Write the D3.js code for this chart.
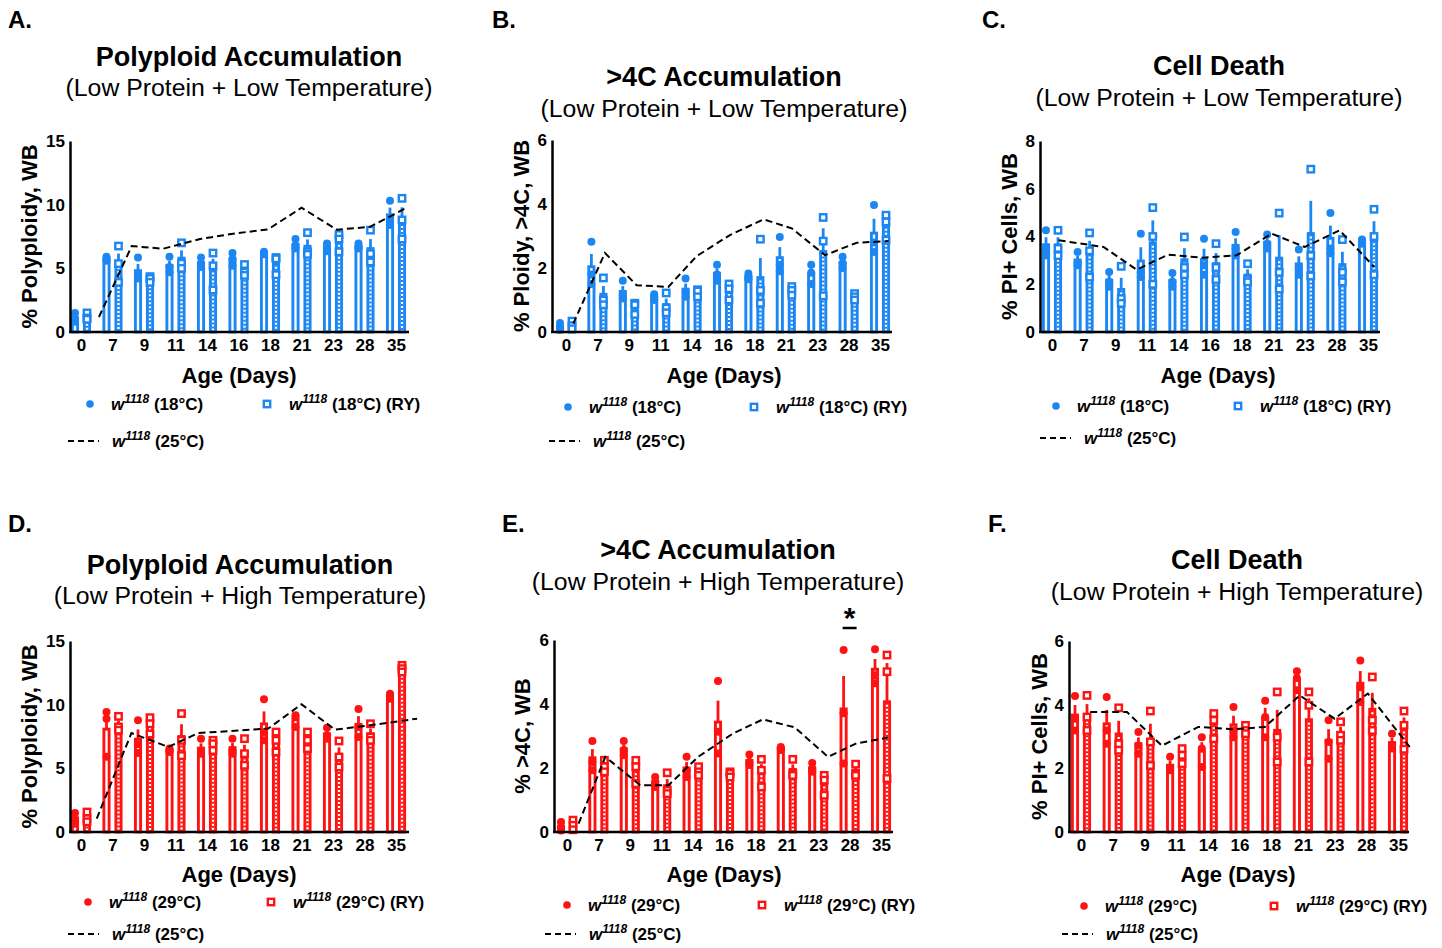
<!DOCTYPE html>
<html>
<head>
<meta charset="utf-8">
<title>Polyploidy, >4C and cell death by age</title>
<script src="https://d3js.org/d3.v7.min.js"></script>
<style>
  body { margin: 0; background: #fff; }
  svg { display: block; font-family: "Liberation Sans", Arial, sans-serif; }
</style>
</head>
<body>
<svg id="fig" width="1442" height="948"></svg>
<script>
// categories (age in days)
const days = ["0", "7", "9", "11", "14", "16", "18", "21", "23", "28", "35"];

// --- A: polyploidy, 18C ---
const aCircle = [[1.5,1.05,0.8],[5.9,5.75,5.6],[5.85,4.4,4.2],[5.9,5.1,4.7],[5.85,5.37,5.1],[6.2,5.75,5.2],
                 [6.3,6.15,6.1],[7.3,6.8,6.55],[6.95,6.7,6.35],[6.95,6.7,6.55],[10.3,8.9,8.4]];
const aSquare = [[1.5,1.1,1.0],[6.75,5.37,3.9],[4.35,4.2,3.9],[7.0,5.4,5.0],[6.2,5.2,3.3],[5.3,4.7,4.45],
                 [5.85,5.75,4.5],[7.8,6.3,6.1],[7.65,7.3,6.3],[8.0,6.15,5.5],[10.5,8.8,7.3]];
const aLineX = [0.57, 1.61, 2.61, 3.78, 4.92, 5.94, 7.0, 8.12, 9.17, 10.34];
const aLineY = [1.18, 6.75, 6.54, 7.3, 7.75, 8.06, 9.76, 8.04, 8.25, 9.76];

// --- B: >4C, 18C ---
const bCircle = [[0.28,0.16,0.07],[2.82,1.8,1.5],[1.6,1.15,1.05],[1.18,1.1,1.0],[1.67,1.25,1.1],[2.1,1.8,1.6],
                 [1.83,1.72,1.65],[2.97,2.1,1.9],[2.1,1.85,1.5],[2.35,2.15,2.0],[3.97,2.8,2.5]];
const bSquare = [[0.34,0.2,0.1],[1.69,1.0,0.85],[0.9,0.85,0.55],[1.22,0.75,0.6],[1.32,1.28,1.1],[1.5,1.35,1.0],
                 [2.9,1.3,0.9],[1.42,1.3,1.15],[3.58,2.84,1.13],[1.2,1.1,1.0],[3.65,3.44,2.87]];
const bLineX = [0.23, 1.24, 2.25, 3.26, 4.16, 5.22, 6.29, 7.19, 8.25, 9.26, 10.27];
const bLineY = [0.26, 2.47, 1.46, 1.41, 2.37, 3.03, 3.52, 3.24, 2.40, 2.79, 2.84];

// --- C: PI+ cells, 18C ---
const cCircle = [[4.26,3.5,3.2],[3.35,2.9,2.8],[2.51,2.1,1.9],[4.12,2.5,2.3],[2.47,2.1,1.9],[3.91,2.8,2.4],
                 [4.19,3.5,3.2],[4.08,3.7,3.5],[3.46,2.7,2.4],[4.98,3.5,3.3],[3.87,3.75,3.7]];
const cSquare = [[4.26,3.5,3.2],[4.15,3.4,2.3],[2.75,1.4,1.2],[5.21,4.0,2.0],[3.98,2.7,2.4],[3.7,2.7,2.2],
                 [2.86,2.2,2.1],[4.98,2.5,1.8],[6.82,3.2,2.35],[3.87,2.5,2.1],[5.14,4.0,2.4]];
const cLineX = [0.21, 1.63, 2.68, 3.68, 4.78, 5.84, 6.95, 8.0, 9.1, 10.2];
const cLineY = [3.84, 3.56, 2.61, 3.24, 3.11, 3.21, 4.12, 3.56, 4.26, 2.72];

// --- D: polyploidy, 29C ---
const dCircle = [[1.5,1.05,0.65],[9.42,8.9,5.9],[8.77,6.9,6.2],[6.55,6.4,6.28],[7.33,6.28,6.15],[7.33,6.4,6.15],
                 [10.42,7.85,7.2],[9.16,9.03,8.25],[8.19,7.59,7.33],[9.66,8.25,7.46],[10.86,10.73,10.47]];
const dSquare = [[1.57,1.05,0.8],[9.08,8.25,8.0],[8.98,8.5,7.7],[9.3,7.2,6.0],[7.2,6.93,6.4],[7.33,6.15,5.24],
                 [7.85,7.2,6.28],[7.85,7.2,6.55],[7.15,5.89,5.1],[8.5,7.46,7.2],[13.09,12.83,12.57]];
const dLineX = [0.5, 1.6, 2.77, 3.72, 5.94, 7.0, 8.06, 9.17, 10.67];
const dLineY = [1.05, 7.77, 6.68, 7.77, 8.12, 10.03, 8.04, 8.38, 8.9];

// --- E: >4C, 29C ---
const eCircle = [[0.31,0.16,0.05],[2.84,2.19,1.93],[2.84,2.56,2.4],[1.72,1.57,1.41],[2.35,1.93,1.72],[4.72,3.13,2.45],
                 [2.42,2.19,2.09],[2.66,2.61,2.56],[2.16,1.98,1.88],[5.69,3.71,2.14],[5.71,4.9,4.65]];
const eSquare = [[0.37,0.21,0.07],[2.24,2.04,1.88],[2.24,2.04,1.51],[1.85,1.3,1.2],[2.04,1.88,1.77],[1.88,1.83,1.72],
                 [2.27,1.93,1.41],[2.27,1.83,1.77],[1.77,1.62,1.15],[2.12,1.83,1.77],[5.53,5.01,1.67]];
const eLineX = [0.37, 1.22, 2.33, 3.23, 4.18, 5.29, 6.24, 7.25, 8.31, 9.22, 10.22];
const eLineY = [0.26, 2.35, 1.46, 1.46, 2.35, 3.08, 3.52, 3.27, 2.35, 2.77, 2.95];
const eSignificant = ["28"];

// --- F: PI+ cells, 29C ---
const fCircle = [[4.27,3.56,3.19],[4.24,3.19,2.77],[3.14,2.72,2.46],[2.36,1.99,1.94],[2.98,2.62,2.04],[3.93,3.19,2.98],
                 [4.12,3.61,2.98],[5.05,4.84,4.45],[3.51,2.83,2.3],[5.39,4.55,4.08],[3.09,2.72,2.62]];
const fSquare = [[4.29,3.61,3.19],[3.9,2.77,2.57],[3.8,2.83,2.09],[2.62,2.41,2.15],[3.72,3.51,2.93],[3.35,3.19,3.09],
                 [4.4,2.98,2.2],[4.4,3.98,2.2],[3.46,3.04,2.88],[4.87,3.51,3.19],[3.8,3.35,2.6]];
const fLineX = [0.29, 1.45, 2.55, 3.7, 4.8, 5.8, 6.9, 8.0, 9.05, 10.37];
const fLineY = [3.77, 3.77, 2.71, 3.3, 3.23, 3.3, 4.29, 3.56, 4.35, 2.67];

const BLUE = "#1c87f2", RED = "#ff1212";

const panels = [
  { letter: "A.", lx: 8, ly: 28, title: "Polyploid Accumulation", sub: "(Low Protein + Low Temperature)", tx: 249, ty: 66, sy: 96,
    yTitle: "% Polyploidy, WB", ytx: 29, x0: 70, x1: 409, c0: 81, c1: 396, yTop: 141, yBot: 332, ymax: 15, ticks: [0, 5, 10, 15],
    xtX: 239, xtY: 383, legC: 90, legS: 267, legL: 68, legY1: 404, legY2: 441,
    circle: aCircle, square: aSquare, lineX: aLineX, lineY: aLineY, color: BLUE, temp: "18°C" },
  { letter: "B.", lx: 492, ly: 28, title: ">4C Accumulation", sub: "(Low Protein + Low Temperature)", tx: 724, ty: 86, sy: 117,
    yTitle: "% Ploidy, >4C, WB", ytx: 521, x0: 552, x1: 892, c0: 566, c1: 880, yTop: 140, yBot: 332, ymax: 6, ticks: [0, 2, 4, 6],
    xtX: 724, xtY: 383, legC: 568, legS: 754, legL: 549, legY1: 407, legY2: 441,
    circle: bCircle, square: bSquare, lineX: bLineX, lineY: bLineY, color: BLUE, temp: "18°C" },
  { letter: "C.", lx: 982, ly: 28, title: "Cell Death", sub: "(Low Protein + Low Temperature)", tx: 1219, ty: 75, sy: 106,
    yTitle: "% PI+ Cells, WB", ytx: 1009, x0: 1040, x1: 1380, c0: 1052, c1: 1368, yTop: 141, yBot: 332, ymax: 8, ticks: [0, 2, 4, 6, 8],
    xtX: 1218, xtY: 383, legC: 1056, legS: 1238, legL: 1040, legY1: 406, legY2: 438,
    circle: cCircle, square: cSquare, lineX: cLineX, lineY: cLineY, color: BLUE, temp: "18°C" },
  { letter: "D.", lx: 8, ly: 532, title: "Polyploid Accumulation", sub: "(Low Protein + High Temperature)", tx: 240, ty: 574, sy: 604,
    yTitle: "% Polyploidy, WB", ytx: 29, x0: 70, x1: 409, c0: 81, c1: 396, yTop: 641, yBot: 832, ymax: 15, ticks: [0, 5, 10, 15],
    xtX: 239, xtY: 882, legC: 88, legS: 271, legL: 68, legY1: 902, legY2: 934,
    circle: dCircle, square: dSquare, lineX: dLineX, lineY: dLineY, color: RED, temp: "29°C" },
  { letter: "E.", lx: 502, ly: 532, title: ">4C Accumulation", sub: "(Low Protein + High Temperature)", tx: 718, ty: 559, sy: 590,
    yTitle: "% >4C, WB", ytx: 522, x0: 554, x1: 893, c0: 567, c1: 881, yTop: 640, yBot: 832, ymax: 6, ticks: [0, 2, 4, 6],
    xtX: 724, xtY: 882, legC: 567, legS: 762, legL: 545, legY1: 905, legY2: 934,
    circle: eCircle, square: eSquare, lineX: eLineX, lineY: eLineY, color: RED, temp: "29°C", sig: eSignificant },
  { letter: "F.", lx: 988, ly: 532, title: "Cell Death", sub: "(Low Protein + High Temperature)", tx: 1237, ty: 569, sy: 600,
    yTitle: "% PI+ Cells, WB", ytx: 1039, x0: 1069, x1: 1409, c0: 1081, c1: 1398, yTop: 641, yBot: 832, ymax: 6, ticks: [0, 2, 4, 6],
    xtX: 1238, xtY: 882, legC: 1084, legS: 1274, legL: 1062, legY1: 906, legY2: 934,
    circle: fCircle, square: fSquare, lineX: fLineX, lineY: fLineY, color: RED, temp: "29°C" }
];

const svg = d3.select("#fig");

function legendText(g, x, y, label) {
  const t = g.append("text").attr("x", x).attr("y", y)
    .attr("font-size", 17).attr("font-weight", "bold").attr("fill", "#000");
  t.append("tspan").attr("font-style", "italic").text("w");
  t.append("tspan").attr("font-style", "italic").attr("font-size", 12).attr("dy", -7).text("1118");
  t.append("tspan").attr("dy", 7).text(" " + label);
}

function drawPanel(p) {
  const g = svg.append("g");
  const x = d3.scalePoint().domain(days).range([p.c0, p.c1]);
  const xi = d3.scaleLinear().domain([0, days.length - 1]).range([p.c0, p.c1]);
  const y = d3.scaleLinear().domain([0, p.ymax]).range([p.yBot, p.yTop]);

  // headings
  g.append("text").attr("x", p.lx).attr("y", p.ly).attr("font-size", 24).attr("font-weight", "bold").text(p.letter);
  g.append("text").attr("x", p.tx).attr("y", p.ty).attr("text-anchor", "middle")
    .attr("font-size", 27).attr("font-weight", "bold").text(p.title);
  g.append("text").attr("x", p.tx).attr("y", p.sy).attr("text-anchor", "middle")
    .attr("font-size", 24.8).text(p.sub);

  // series: circle bars left, RY square bars right
  const series = [
    { key: "circle", pts: p.circle, dx: -6 },
    { key: "square", pts: p.square, dx: 6 }
  ];

  series.forEach(s => {
    const stats = s.pts.map((v, i) => ({
      day: days[i],
      pts: v,
      mean: d3.mean(v),
      sem: d3.deviation(v) / Math.sqrt(v.length)
    }));
    const grp = g.append("g");
    const bx = d => x(d.day) + s.dx;

    grp.selectAll("rect.bar").data(stats).join("rect")
      .attr("class", "bar")
      .attr("x", d => bx(d) - 2.6).attr("width", 5.2)
      .attr("y", d => y(d.mean)).attr("height", d => y(0) - y(d.mean))
      .attr("fill", "#fff").attr("stroke", p.color).attr("stroke-width", 2.9);

    if (s.key === "square") {
      // dotted interior of the RY bars
      grp.selectAll("line.dots").data(stats).join("line")
        .attr("x1", bx).attr("x2", bx)
        .attr("y1", d => y(d.mean) + 1).attr("y2", y(0))
        .attr("stroke", p.color).attr("stroke-width", 2.6).attr("stroke-dasharray", "2,2");
    }

    grp.selectAll("line.err").data(stats).join("line")
      .attr("x1", bx).attr("x2", bx)
      .attr("y1", d => y(d.mean)).attr("y2", d => y(d.mean + d.sem))
      .attr("stroke", p.color).attr("stroke-width", 2.8);

    const flat = stats.flatMap(d => d.pts.map(v => ({ day: d.day, v })));
    if (s.key === "circle") {
      grp.selectAll("circle").data(flat).join("circle")
        .attr("cx", d => x(d.day) + s.dx).attr("cy", d => y(d.v)).attr("r", 4)
        .attr("fill", p.color);
    } else {
      grp.selectAll("rect.pt").data(flat).join("rect")
        .attr("class", "pt")
        .attr("x", d => x(d.day) + s.dx - 3.2).attr("y", d => y(d.v) - 3.2)
        .attr("width", 6.4).attr("height", 6.4)
        .attr("fill", "#fff").attr("stroke", p.color).attr("stroke-width", 2.4);
    }
  });

  // 25C reference line
  const lineData = p.lineX.map((v, i) => [v, p.lineY[i]]);
  g.append("path").datum(lineData)
    .attr("d", d3.line().x(d => xi(d[0])).y(d => y(d[1])))
    .attr("fill", "none").attr("stroke", "#000").attr("stroke-width", 2)
    .attr("stroke-dasharray", "7,4");

  // significance marks
  (p.sig || []).forEach(day => {
    g.append("text").attr("x", x(day)).attr("y", p.yTop - 12).attr("text-anchor", "middle")
      .attr("font-size", 30).attr("font-weight", "bold").text("*");
    g.append("line").attr("x1", x(day) - 7).attr("x2", x(day) + 7)
      .attr("y1", p.yTop - 12).attr("y2", p.yTop - 12)
      .attr("stroke", "#000").attr("stroke-width", 2.5);
  });

  // axes
  const ya = g.append("g").attr("transform", `translate(${p.x0},0)`)
    .call(d3.axisLeft(y).tickValues(p.ticks).tickFormat(d3.format("d"))
      .tickSize(0).tickSizeOuter(0).tickPadding(5));
  ya.attr("font-size", 17).attr("font-family", "Liberation Sans, Arial, sans-serif");
  ya.select(".domain").attr("stroke", "#000").attr("stroke-width", 2.5);
  ya.selectAll(".tick text").attr("font-weight", "bold").attr("fill", "#000");

  g.append("line").attr("x1", p.x0 - 1).attr("x2", p.x1).attr("y1", p.yBot).attr("y2", p.yBot)
    .attr("stroke", "#000").attr("stroke-width", 2.5);
  const xa = g.append("g").attr("transform", `translate(0,${p.yBot})`)
    .call(d3.axisBottom(x).tickSize(0).tickPadding(7));
  xa.attr("font-size", 17).attr("font-family", "Liberation Sans, Arial, sans-serif");
  xa.select(".domain").remove();
  xa.selectAll(".tick text").attr("font-weight", "bold").attr("fill", "#000");

  // axis titles
  g.append("text").attr("transform", `translate(${p.ytx},${(p.yTop + p.yBot) / 2}) rotate(-90)`)
    .attr("text-anchor", "middle").attr("dominant-baseline", "central")
    .attr("font-size", 22).attr("font-weight", "bold").text(p.yTitle);
  g.append("text").attr("x", p.xtX).attr("y", p.xtY).attr("text-anchor", "middle")
    .attr("font-size", 22).attr("font-weight", "bold").text("Age (Days)");

  // legend
  const lg = g.append("g");
  lg.append("circle").attr("cx", p.legC).attr("cy", p.legY1).attr("r", 3.8).attr("fill", p.color);
  legendText(lg, p.legC + 21, p.legY1 + 6, "(" + p.temp + ")");
  lg.append("rect").attr("x", p.legS - 3.2).attr("y", p.legY1 - 3.2).attr("width", 6.4).attr("height", 6.4)
    .attr("fill", "#fff").attr("stroke", p.color).attr("stroke-width", 2.4);
  legendText(lg, p.legS + 22, p.legY1 + 6, "(" + p.temp + ") (RY)");
  lg.append("line").attr("x1", p.legL).attr("x2", p.legL + 31).attr("y1", p.legY2).attr("y2", p.legY2)
    .attr("stroke", "#000").attr("stroke-width", 1.8).attr("stroke-dasharray", "6,4");
  legendText(lg, p.legL + 44, p.legY2 + 6, "(25°C)");
}

panels.forEach(drawPanel);
</script>
</body>
</html>
